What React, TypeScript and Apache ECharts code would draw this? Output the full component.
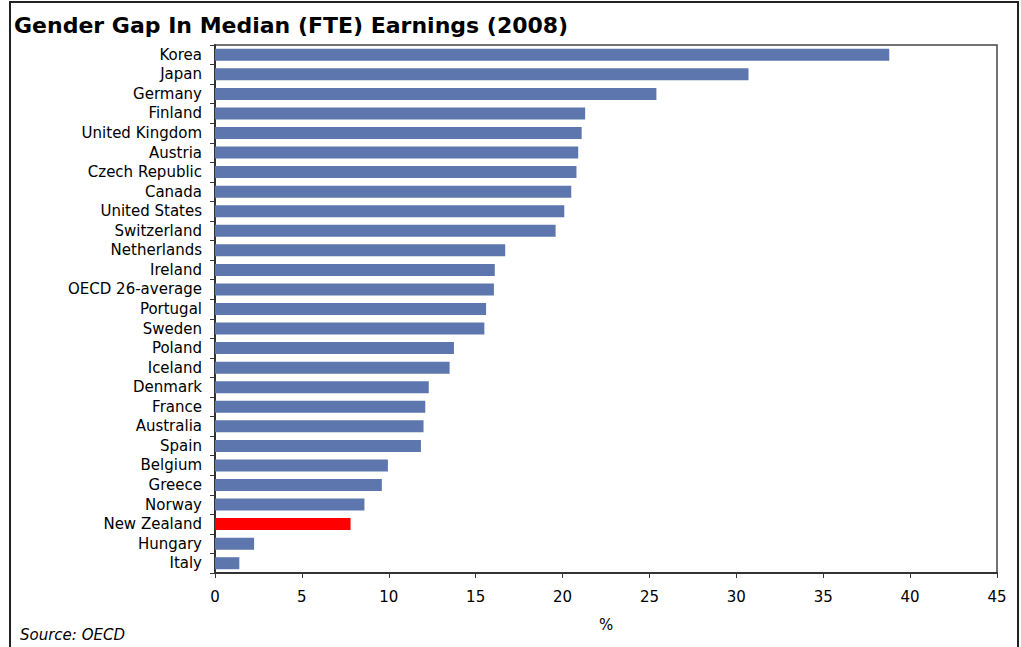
import React, { useEffect, useRef } from "react";
import * as echarts from "echarts";

const countries = [
  "Korea", "Japan", "Germany", "Finland", "United Kingdom", "Austria", "Czech Republic",
  "Canada", "United States", "Switzerland", "Netherlands", "Ireland", "OECD 26-average",
  "Portugal", "Sweden", "Poland", "Iceland", "Denmark", "France", "Australia", "Spain",
  "Belgium", "Greece", "Norway", "New Zealand", "Hungary", "Italy",
];
const gapValues = [
  38.8, 30.7, 25.4, 21.3, 21.1, 20.9, 20.8, 20.5, 20.1, 19.6, 16.7, 16.1, 16.05,
  15.6, 15.5, 13.75, 13.5, 12.3, 12.1, 12.0, 11.85, 9.95, 9.6, 8.6, 7.8, 2.25, 1.4,
];
const highlighted = "New Zealand";
const xTicks = { min: 0, max: 45, interval: 5 };

const FONT = "DejaVu Sans";

export default function App() {
  const ref = useRef<HTMLDivElement>(null);
  useEffect(() => {
    if (!ref.current) return;
    const chart = echarts.init(ref.current, null, { renderer: "svg" });
    chart.setOption({
      animation: false,
      backgroundColor: "#fff",
      title: {
        text: "Gender Gap In Median (FTE) Earnings (2008)",
        left: 9,
        top: 9,
        textStyle: { fontFamily: FONT, fontSize: 22, fontWeight: "bold", color: "#000" },
      },
      graphic: [
        {
          type: "rect",
          shape: { x: 10, y: 2, width: 1008, height: 700 },
          style: { fill: "none", stroke: "#222", lineWidth: 2 },
          silent: true,
        },
        {
          type: "text",
          left: 20,
          top: 627,
          style: {
            text: "Source: OECD",
            fontFamily: FONT,
            fontSize: 15,
            fontStyle: "italic",
            fill: "#000",
          },
        },
      ],
      grid: {
        left: 215,
        right: 24,
        top: 45,
        bottom: 74,
        show: true,
        borderColor: "#444",
        borderWidth: 1.5,
      },
      xAxis: {
        type: "value",
        min: xTicks.min,
        max: xTicks.max,
        interval: xTicks.interval,
        name: "%",
        nameLocation: "middle",
        nameGap: 44,
        nameTextStyle: { fontFamily: FONT, fontSize: 15, color: "#000" },
        axisLine: { show: true, lineStyle: { color: "#333", width: 2 } },
        axisTick: { show: true, length: 5, lineStyle: { color: "#333" } },
        axisLabel: { fontFamily: FONT, fontSize: 15, color: "#000", margin: 16 },
        splitLine: { show: false },
      },
      yAxis: {
        type: "category",
        inverse: true,
        data: countries,
        axisLine: { show: true, lineStyle: { color: "#333", width: 2 } },
        axisTick: { show: true, length: 5, alignWithLabel: false, lineStyle: { color: "#333" } },
        axisLabel: { fontFamily: FONT, fontSize: 15, color: "#000", margin: 13 },
      },
      series: [
        {
          type: "bar",
          data: gapValues.map((v, i) => ({
            value: v,
            itemStyle: { color: countries[i] === highlighted ? "#ff0000" : "#5D76AD" },
          })),
          barWidth: 12,
        },
      ],
    });
    return () => chart.dispose();
  }, []);
  return (
    <div
      ref={ref}
      style={{ position: "fixed", left: 0, top: 0, width: 1021, height: 647 }}
    />
  );
}
